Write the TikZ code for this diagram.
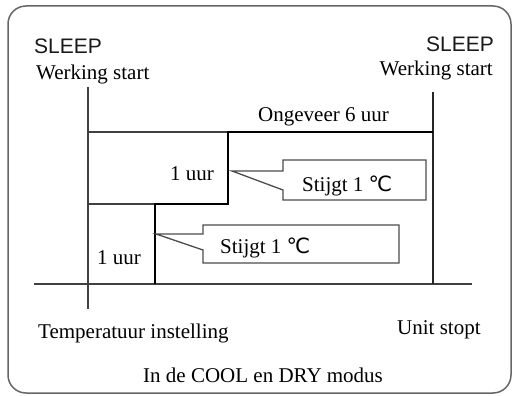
\documentclass[tikz,border=0pt]{standalone}
\usepackage{fontspec}
\setmainfont{Liberation Serif}
\newfontfamily\lsans{Liberation Sans}
\newfontfamily\degfont{DejaVu Sans}
\newcommand{\degC}{{\degfont\fontsize{21}{21}\selectfont ℃}}
\begin{document}
\begin{tikzpicture}[x=1pt,y=-1pt,
  txt/.style={inner sep=0pt,font=\fontsize{21}{21}\selectfont,text=black},
  sans/.style={inner sep=0pt,font=\lsans\fontsize{21}{21}\selectfont,text=black!90},
  thinln/.style={line width=1.2pt,draw=black!75},
  thickln/.style={line width=2.8pt,draw=black,line join=miter},
  midln/.style={line width=1.9pt,draw=black!85},
  callout/.style={line width=1.3pt,draw=black!70,line join=miter},
  frame/.style={line width=1.5pt,draw=black!60,rounded corners=18pt}]
\useasboundingbox (0,0) rectangle (515,396);
% frame
\draw[frame] (8,6) rectangle (511,393);
% coordinates
\coordinate (lt) at (88,87);
\coordinate (lb) at (88,309);
\coordinate (bl) at (34,284);
\coordinate (br) at (472,284);
\coordinate (rt) at (433,92);
\coordinate (rb) at (433,284);
\coordinate (s0) at (155,284);
\coordinate (s1) at (155,204);
\coordinate (s2) at (228,204);
\coordinate (s3) at (228,132);
\coordinate (s4) at (433,132);
\coordinate (h1) at (88,132);
\coordinate (h2) at (88,204);
% axes
\draw[thinln] (lt) -- (lb);
\draw[thinln] (bl) -- (br);
\draw[midln] (rt) -- (rb);
\draw[thinln] (h1) -- (s3);
\draw[thinln] (h2) -- (s1);
\draw[thickln] (s0) -- (s1) -- (s2) -- (s3) -- (s4);
% callouts
\draw[callout] (283,171) -- (232,171) -- (283,190) -- (283,200) -- (426,200) -- (426,160) -- (283,160) -- cycle;
\draw[callout] (203,234) -- (156,234) -- (203,250) -- (203,263) -- (399,263) -- (399,225) -- (203,225) -- cycle;
% texts
\node[sans,anchor=base west] (sl) at (34,54) {SLEEP};
\node[txt,anchor=base west] (wl) at (36,80) {Werking start};
\node[sans,anchor=base east] (sr) at (494,52) {SLEEP};
\node[txt,anchor=base east] (wr) at (493,76) {Werking start};
\node[txt,anchor=base west] (ong) at (258,122) {Ongeveer 6 uur};
\node[txt,anchor=base west] (u1) at (170,181) {1 uur};
\node[txt,anchor=base west] (st1) at (302,192) {Stijgt 1 \degC};
\node[txt,anchor=base west] (st2) at (220,254) {Stijgt 1 \degC};
\node[txt,anchor=base west] (u2) at (97,264) {1 uur};
\node[txt,anchor=base west] (tmp) at (38,338) {Temperatuur instelling};
\node[txt,anchor=base west] (us) at (397,334) {Unit stopt};
\node[txt,anchor=base west] (md) at (143,382) {In de COOL en DRY modus};
\end{tikzpicture}
\end{document}
